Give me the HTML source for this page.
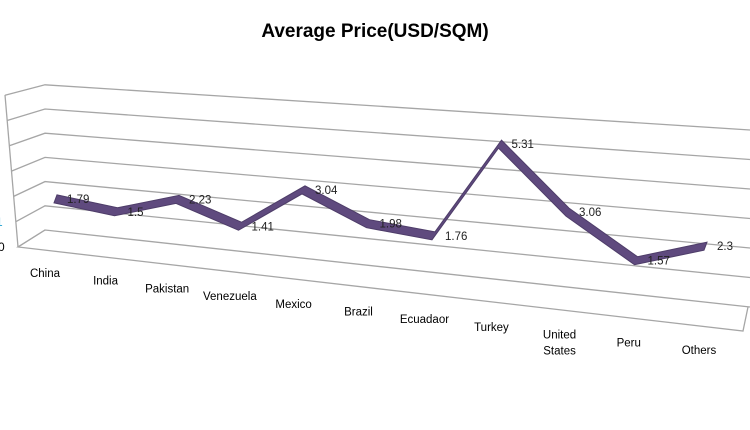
<!DOCTYPE html>
<html><head><meta charset="utf-8"><style>
body{margin:0;background:#fff;}
svg{display:block;font-family:"Liberation Sans",sans-serif;}
</style></head><body>
<svg id="chart" width="750" height="430" viewBox="0 0 750 430">
<text x="375" y="37" text-anchor="middle" font-size="19" font-weight="bold" fill="#000">Average Price(USD/SQM)</text>
<g id="grid"></g><g id="series"></g><g id="labels"></g>
</svg>
<script>
const categories=["China","India","Pakistan","Venezuela","Mexico","Brazil","Ecuadaor","Turkey","United States","Peru","Others"];
const prices=[1.79,1.5,2.23,1.41,3.04,1.98,1.76,5.31,3.06,1.57,2.3];
const yTicks=[0,1,2,3,4,5,6];
const NS="http://www.w3.org/2000/svg";
function mk(t,a,p){const e=document.createElementNS(NS,t);for(const k in a)e.setAttribute(k,a[k]);p.appendChild(e);return e;}
const gridG=document.getElementById('grid'),serG=document.getElementById('series'),labG=document.getElementById('labels');
function backY(x,v){const base=230+0.1092*(x-45);const unit=24.2+5.3*(x-45)/705;return base-v*unit;}
function xCat(k){return 57+60*k+0.5*k*k;}
function yVal(x,v){return backY(x,v)+11;}
const gc="#a6a6a6";
yTicks.forEach(v=>{
  const l=mk('polyline',{points:`${5+13*(1-v/6)},${247-v*25.3} 45,${backY(45,v)} 750,${backY(750,v)}`,fill:'none',stroke:gc,'stroke-width':1.3},gridG);
  
  
});
const le=mk('line',{x1:5,y1:95,x2:18,y2:247,stroke:gc,'stroke-width':1.3},gridG);


const fl=mk('polyline',{points:'45,230 18,247 743,331 748,307',fill:'none',stroke:gc,'stroke-width':1.3},gridG);


const t0=mk('text',{x:-2,y:251,'font-size':12,fill:'#000'},gridG);t0.textContent='0';


const t1=mk('text',{x:-4,y:226,'font-size':12,fill:'#1fa0d0'},gridG);t1.textContent='1';


const ribbonTop=prices.map((v,k)=>{const x=xCat(k);return [x,yVal(x,v)-4];});
const ribbonBot=ribbonTop.map(p=>[p[0]-3,p[1]+8]);
const poly=mk('polygon',{points:ribbonTop.concat(ribbonBot.slice().reverse()).map(p=>p.join(',')).join(' '),fill:'#5f4a7e',stroke:'#4e3d69','stroke-width':1},serG);


prices.forEach((v,k)=>{
  const x=xCat(k),y=yVal(x,v);
  const t=mk('text',{x:x+10,y:y+4,'font-size':11.5,fill:'#222'},labG);t.textContent=String(v);
  
  
  const cx=x-12+0.04*k*k, cy=277+7.7*k;
  const c=mk('text',{x:cx,y:cy,'font-size':11.5,'text-anchor':'middle',fill:'#000'},labG);
  const parts=categories[k].split(' ');
  if(parts.length>1){parts.forEach((p,i)=>{const s=mk('tspan',{x:cx,dy:i?16:0},c);s.textContent=p;});}
  else c.textContent=categories[k];
  
  
});
</script>
</body></html>
